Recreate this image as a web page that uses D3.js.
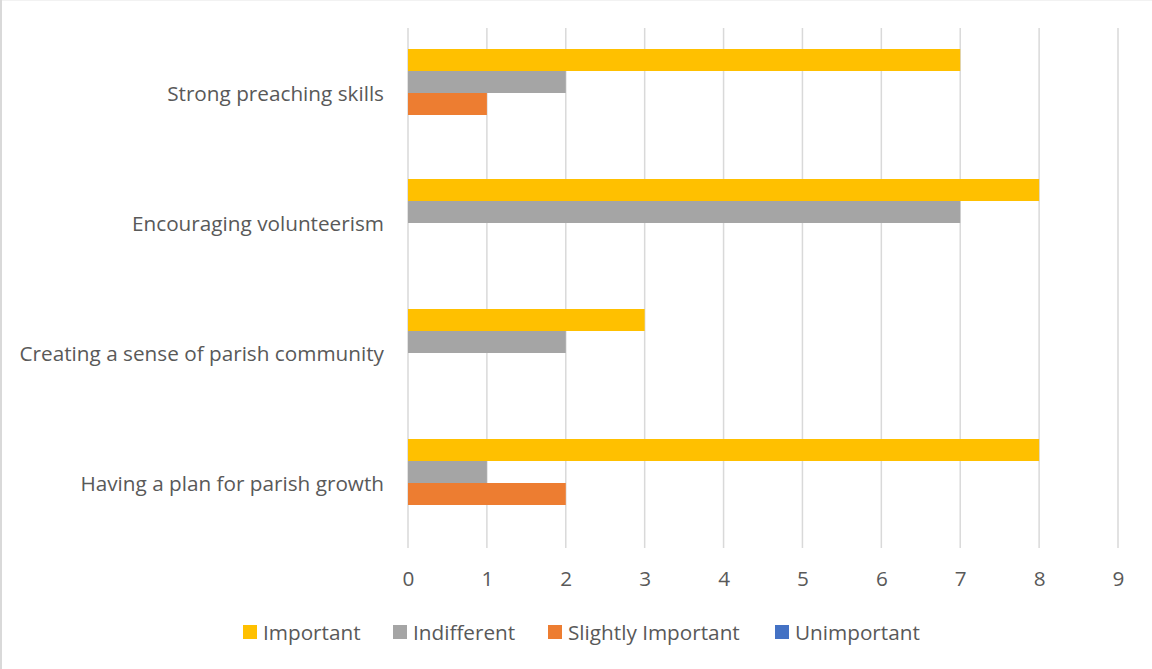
<!DOCTYPE html>
<html><head><meta charset="utf-8">
<script src="https://cdn.jsdelivr.net/npm/d3@7"></script>
<style>body{margin:0;background:#fff}svg{display:block}text{font-family:"Open Sans",sans-serif;fill:#595959}</style>
</head><body>
<script>
const categories = ["Strong preaching skills","Encouraging volunteerism","Creating a sense of parish community","Having a plan for parish growth"];
const seriesNames = ["Important","Indifferent","Slightly Important","Unimportant"];
const seriesColors = ["#FFC000","#A5A5A5","#ED7D31","#4472C4"];
const important = [7,8,3,8];
const indifferent = [2,7,2,1];
const slightlyImportant = [1,0,0,2];
const unimportant = [0,0,0,0];
const xTicks = [0,1,2,3,4,5,6,7,8,9];
const seriesValues = [important, indifferent, slightlyImportant, unimportant];

const W=1152,H=669;
const svg=d3.select("body").append("svg").attr("width",W).attr("height",H);
svg.append("line").attr("x1",0).attr("x2",W).attr("y1",0.5).attr("y2",0.5).attr("stroke","#f2f2f2").attr("stroke-width",1);
svg.append("line").attr("x1",1).attr("x2",1).attr("y1",0).attr("y2",H).attr("stroke","#d9d9d9").attr("stroke-width",2);

const x=d3.scaleLinear().domain([0,9]).range([408,1118]);
const y=d3.scaleBand().domain(categories).range([28,548]).paddingInner(42/130).paddingOuter(21/130);
const ys=d3.scaleBand().domain(seriesNames).range([0,y.bandwidth()]);

svg.append("g").selectAll("line").data(xTicks).join("line")
  .attr("x1",d=>x(d)).attr("x2",d=>x(d)).attr("y1",28).attr("y2",548)
  .attr("stroke","#d9d9d9").attr("stroke-width",1.5);

const rows=[];
categories.forEach((c,i)=>seriesNames.forEach((s,j)=>rows.push({c,s,j,v:seriesValues[j][i]})));
svg.append("g").selectAll("rect").data(rows.filter(d=>d.v>0)).join("rect")
  .attr("x",x(0)).attr("y",d=>y(d.c)+ys(d.s)).attr("width",d=>x(d.v)-x(0)).attr("height",ys.bandwidth())
  .attr("fill",d=>seriesColors[d.j]);

const cl=svg.append("g").selectAll("text").data(categories).join("text")
  .attr("x",384).attr("y",d=>y(d)+y.bandwidth()/2-0.5).attr("text-anchor","end").attr("dominant-baseline","central")
  .style("font-size","19px").text(d=>d);
const w0=cl.nodes()[0].getComputedTextLength();
const fsz=19*217/w0;
cl.style("font-size",fsz+"px");

const xa=svg.append("g").attr("transform","translate(0,548)").call(d3.axisBottom(x).tickValues(xTicks).tickSize(0).tickPadding(23).tickFormat(d3.format("d")));
xa.select(".domain").remove();
xa.selectAll("text").style("font-size",fsz+"px").attr("fill","#595959").style("font-family",null);

const legX=[243,393,548,775];
const lg=svg.append("g").selectAll("g").data(seriesNames).join("g").attr("transform",(d,i)=>`translate(${legX[i]},632)`);
lg.append("rect").attr("x",0).attr("y",-7).attr("width",14).attr("height",14).attr("fill",(d,i)=>seriesColors[i]);
lg.append("text").attr("x",20).attr("y",0).attr("dominant-baseline","central").style("font-size",fsz+"px").text(d=>d);
</script>
</body></html>
